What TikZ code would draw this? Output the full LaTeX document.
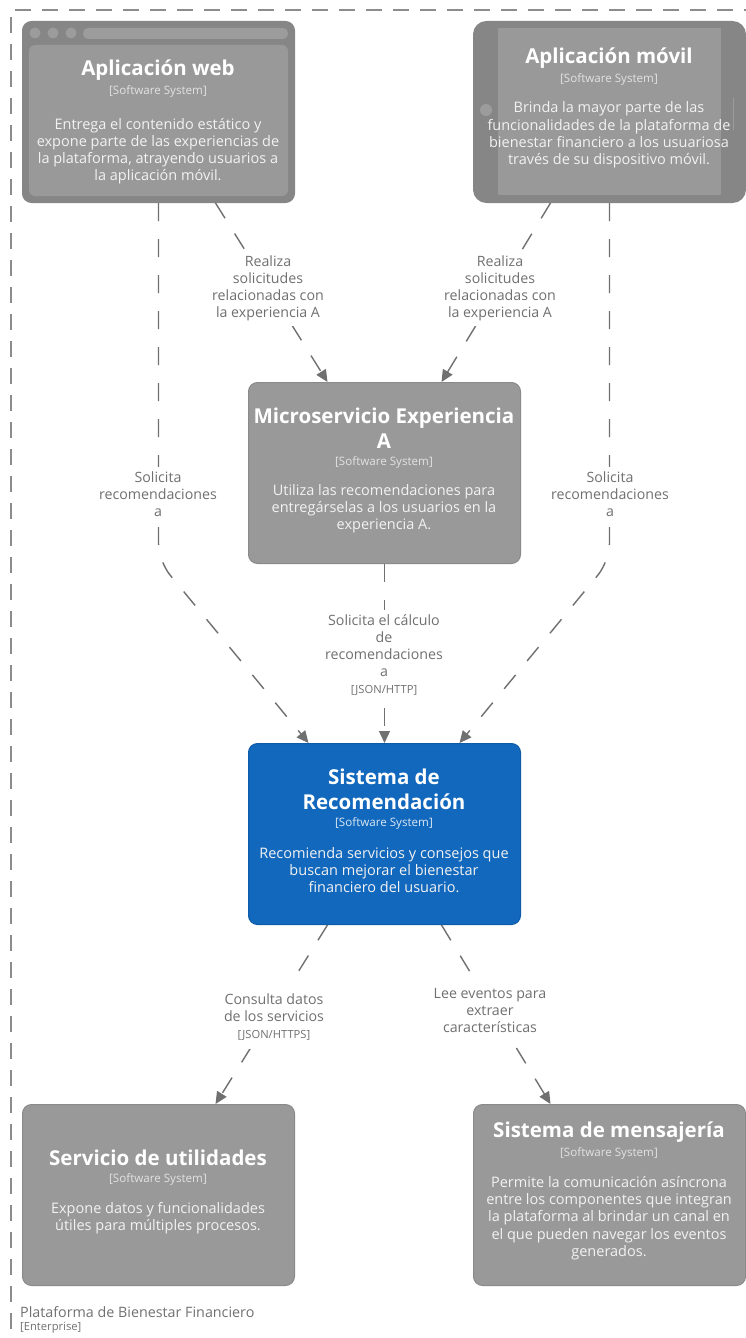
\documentclass[tikz,border=0pt]{standalone}
\usepackage{fontspec}
\setmainfont{Open Sans}
\usetikzlibrary{arrows.meta}
\definecolor{boxfill}{HTML}{999999}
\definecolor{boxline}{HTML}{8A8A8A}
\definecolor{frame}{HTML}{868686}
\definecolor{frameinner}{HTML}{999999}
\definecolor{framedeco}{HTML}{9C9C9C}
\definecolor{recfill}{HTML}{1168BD}
\definecolor{recline}{HTML}{0E5BA8}
\definecolor{relline}{HTML}{707070}
\definecolor{lbltext}{HTML}{707070}
\definecolor{bound}{HTML}{8C8C8C}
\definecolor{subtxt}{HTML}{E2E2E2}
\definecolor{dsctxt}{HTML}{F2F2F2}
\newcommand\techfont{\fontsize{11.2}{13}\selectfont}
\tikzset{
  sysbox/.style={draw=boxline, fill=boxfill, line width=1pt, rounded corners=9pt,
    minimum width=272pt, minimum height=181pt, anchor=north west, inner sep=0pt},
  ttl/.style={text=white, font=\bfseries\fontsize{20.5}{25}\selectfont, align=center, inner sep=0pt},
  typ/.style={text=subtxt, font=\fontsize{11.6}{13}\selectfont, inner sep=0pt},
  dsc/.style={text=dsctxt, font=\fontsize{14.5}{17.2}\selectfont, align=center, inner sep=0pt},
  rel/.style={draw=relline, line width=1.4pt, dash pattern=on 18pt off 18pt,
    -{Triangle[length=12pt,width=11pt,fill=relline]}},
  lbl/.style={fill=white, text=lbltext, font=\fontsize{14.2}{17}\selectfont, align=center, inner sep=5pt},
}
\begin{document}
\begin{tikzpicture}[x=1pt, y=-1pt]
\useasboundingbox (0,0) rectangle (746,1338);

% enterprise boundary
\draw[bound, line width=1.3pt, dash pattern=on 16pt off 11pt] (760,10) -- (11,10) -- (11,1350);
\node[anchor=west, inner sep=0pt, text=lbltext, font=\fontsize{14.3}{16}\selectfont] (bname) at (20,1312) {Plataforma de Bienestar Financiero};
\node[anchor=west, inner sep=0pt, text=lbltext, font=\fontsize{11.2}{12}\selectfont] (btype) at (20,1328) {[Enterprise]};

% web application (browser frame)
\node[sysbox, draw=frame, fill=frame] (web) at (22,21) {};
\fill[frameinner, rounded corners=6pt] (29,45) rectangle (288,196);
\foreach \cx in {35,53,71} \fill[framedeco] (\cx,33) circle (5.5);
\fill[framedeco, rounded corners=5pt] (83,28) rectangle (288,39);
\node[ttl] (webT) at (158,70) {Aplicación web};
\node[typ] (webS) at (158,91) {[Software System]};
\node[dsc] (webD) at (158,151) {Entrega el contenido estático y\\expone parte de las experiencias de\\la plataforma, atrayendo usuarios a\\la aplicación móvil.};

% mobile application (device frame)
\node[sysbox, draw=frame, fill=frame, rounded corners=13pt] (mob) at (473,21) {};
\fill[frameinner] (498,28) rectangle (721,195);
\fill[framedeco] (486,110) circle (6);
\draw[framedeco, line width=1pt] (733,98) -- (733,130);
\node[ttl] (mobT) at (609,58) {Aplicación móvil};
\node[typ] (mobS) at (609,79) {[Software System]};
\node[dsc] (mobD) at (609,135) {Brinda la mayor parte de las\\funcionalidades de la plataforma de\\bienestar financiero a los usuariosa\\través de su dispositivo móvil.};

% microservice
\node[sysbox] (mic) at (248,382) {};
\node[ttl] (micT) at (384,428) {Microservicio Experiencia\\A};
\node[typ] (micS) at (384,462) {[Software System]};
\node[dsc] (micD) at (384,509) {Utiliza las recomendaciones para\\entregárselas a los usuarios en la\\experiencia A.};

% recommendation system
\node[sysbox, draw=recline, fill=recfill] (rec) at (248,743) {};
\node[ttl] (recT) at (384,789) {Sistema de\\Recomendación};
\node[typ, text=white!85!recfill] (recS) at (384,823) {[Software System]};
\node[dsc] (recD) at (384,870) {Recomienda servicios y consejos que\\buscan mejorar el bienestar\\financiero del usuario.};

% utilities service
\node[sysbox] (uti) at (22,1104) {};
\node[ttl] (utiT) at (158,1158) {Servicio de utilidades};
\node[typ] (utiS) at (158,1179) {[Software System]};
\node[dsc] (utiD) at (158,1218) {Expone datos y funcionalidades\\útiles para múltiples procesos.};

% messaging system
\node[sysbox] (msg) at (473,1104) {};
\node[ttl] (msgT) at (609,1132) {Sistema de mensajería};
\node[typ] (msgS) at (609,1153) {[Software System]};
\node[dsc] (msgD) at (609,1218) {Permite la comunicación asíncrona\\entre los componentes que integran\\la plataforma al brindar un canal en\\el que pueden navegar los eventos\\generados.};

% relationships
\draw[rel] ([xshift=57pt]web.south) -- ([xshift=-57pt]mic.north);
\draw[rel] ([xshift=-59pt]mob.south) -- ([xshift=57pt]mic.north);
\draw[rel, rounded corners=18pt] (web.south) -- ++(0,358) -- ([xshift=-76pt]rec.north);
\draw[rel, rounded corners=18pt] (mob.south) -- ++(0,358) -- ([xshift=75pt]rec.north);
\draw[rel] (mic.south) -- (rec.north);
\draw[rel] ([xshift=-57pt]rec.south) -- ([xshift=57pt]uti.north);
\draw[rel] ([xshift=57pt]rec.south) -- ([xshift=-59pt]msg.north);

% relationship labels
\node[lbl] (l1) at (268,288) {Realiza\\solicitudes\\relacionadas con\\la experiencia A};
\node[lbl] (l2) at (500,288) {Realiza\\solicitudes\\relacionadas con\\la experiencia A};
\node[lbl] (l3) at (158,494) {Solicita\\recomendaciones\\a};
\node[lbl] (l4) at (610,494) {Solicita\\recomendaciones\\a};
\node[lbl] (l5) at (384,655) {Solicita el cálculo\\de\\recomendaciones\\a\\{\techfont [JSON/HTTP]}};
\node[lbl, inner ysep=9pt] (l6) at (274,1017) {Consulta datos\\de los servicios\\{\techfont [JSON/HTTPS]}};
\node[lbl] (l7) at (490,1010) {Lee eventos para\\extraer\\características};
\end{tikzpicture}
\end{document}
